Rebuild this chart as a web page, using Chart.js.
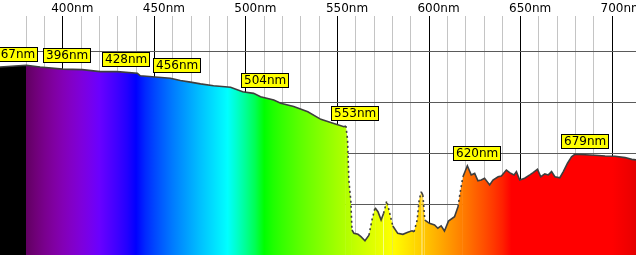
<!DOCTYPE html>
<html>
<head>
<meta charset="utf-8">
<script src="https://cdn.jsdelivr.net/npm/chart.js@4/dist/chart.umd.min.js"></script>
<style>
  html, body { margin: 0; padding: 0; background: #fff; }
  canvas { display: block; }
</style>
</head>
<body>
<canvas id="c" width="636" height="255"></canvas>
<script>
// wavelength (nm) and relative intensity
const wavelengths = [365.7,380,387.6,400,410.6,420.4,429.7,440.7,442.3,450.5,458.8,464.2,469.7,475.2,482.3,491.6,498.2,504.2,508,515.2,519,526.1,533.8,540.9,548,553.5,554.6,555.5,556.2,557.3,557.9,559,561.2,562.8,565,567.2,568.8,570.5,572.1,573.8,575.2,576.9,578.1,580.2,582.9,585.7,588.4,590.7,591.8,593.5,594.6,595.7,596.6,597.7,600.2,603,604.8,606.6,608.4,610.6,613.9,615.8,616.9,618.5,620.9,623,624.9,626.7,628.5,630.3,633.1,634.9,637.7,639.5,642.2,644,646.4,647.7,649.5,652.2,655,656.8,659.2,661,663.2,665.1,666.9,668.7,671.4,673.3,675.6,677.8,679.6,685.1,690.6,696.1,701.5,707,710.7,713];
const intensity = [73.7,74.4,73.7,72.9,72.7,71.9,71.9,71.3,70.3,69.8,69.3,68.4,67.8,67.1,66.4,65.8,64.0,63.4,62.1,60.8,59.5,58.2,56.2,53.2,51.6,50.3,50.6,45.1,29.4,20.9,9.8,8.5,8.1,7.2,5.6,7.8,13.7,18.5,17.0,13.7,16.4,21.2,17.6,11.4,8.5,8.1,8.9,9.5,9.1,13.7,21.6,24.8,23.5,13.7,12.4,11.8,10.5,11.4,9.4,13.3,15.0,18.9,24.2,30.7,35.0,31.4,32.0,29.1,29.4,30.1,27.5,29.4,30.7,31.0,33.3,32.3,31.4,32.7,29.4,30.1,31.4,32.3,33.6,30.7,31.8,31.4,32.7,30.7,30.3,32.7,36.0,38.5,39.5,39.3,39.1,38.8,38.7,38.2,37.5,37.3];
const peaks = [367, 396, 428, 456, 504, 553, 620, 679];

Chart.defaults.font.family = '"DejaVu Sans", sans-serif';
Chart.defaults.font.size = 12;
Chart.defaults.color = '#000';

// visible spectrum colour (Bruton)
function spectrumColor(w) {
  let r = 0, g = 0, b = 0;
  if (w < 380) return 'rgb(0,0,0)';
  if (w < 440) { r = (440 - w) / 60; b = 1; }
  else if (w < 490) { g = (w - 440) / 50; b = 1; }
  else if (w < 510) { g = 1; b = (510 - w) / 20; }
  else if (w < 580) { r = (w - 510) / 70; g = 1; }
  else if (w < 645) { r = 1; g = (645 - w) / 65; }
  else { r = 1; }
  let f = 1;
  if (w < 420) f = 0.3 + 0.7 * (w - 380) / 40;
  else if (w > 700) f = 0.3 + 0.7 * (780 - w) / 80;
  const c = v => v === 0 ? 0 : Math.round(255 * Math.pow(v * f, 0.8));
  return `rgb(${c(r)},${c(g)},${c(b)})`;
}

function spectrumFill(ctx) {
  const chart = ctx.chart;
  const area = chart.chartArea;
  if (!area) return null;
  const xs = chart.scales.x;
  const g = chart.ctx.createLinearGradient(area.left, 0, area.right, 0);
  const pos = w => Math.min(1, Math.max(0, (xs.getPixelForValue(w) - area.left) / (area.right - area.left)));
  g.addColorStop(0, '#000');
  g.addColorStop(pos(379.9), '#000');
  for (let w = 380; w <= 720; w += 5) g.addColorStop(pos(w), spectrumColor(w));
  return g;
}

function valueAround(nm, win) {
  let best = -Infinity;
  for (let i = 0; i < wavelengths.length; i++) {
    if (Math.abs(wavelengths[i] - nm) <= win) best = Math.max(best, intensity[i]);
  }
  if (best === -Infinity) {
    for (let i = 1; i < wavelengths.length; i++) {
      if (wavelengths[i] >= nm) {
        const t = (nm - wavelengths[i - 1]) / (wavelengths[i] - wavelengths[i - 1]);
        return intensity[i - 1] + t * (intensity[i] - intensity[i - 1]);
      }
    }
  }
  return best;
}

const peakLabels = {
  id: 'peakLabels',
  afterDatasetsDraw(chart) {
    const { ctx, scales } = chart;
    ctx.save();
    ctx.font = '12px "DejaVu Sans", sans-serif';
    ctx.textBaseline = 'middle';
    peaks.forEach(p => {
      const text = p + 'nm';
      const tw = ctx.measureText(text).width;
      const nw = ctx.measureText(String(p)).width;
      const px = scales.x.getPixelForValue(p);
      const py = scales.y.getPixelForValue(valueAround(p, 3));
      const left = Math.round(px - nw / 2 - 1) + 0.5;
      const bottom = Math.round(py - 6) + 0.5;
      const w = Math.round(tw + 5), h = 14;
      ctx.fillStyle = '#ffff00';
      ctx.fillRect(left, bottom - h, w, h);
      ctx.strokeStyle = '#000';
      ctx.lineWidth = 1;
      ctx.strokeRect(left, bottom - h, w, h);
      ctx.fillStyle = '#000';
      ctx.fillText(text, left + 2.5, bottom - h / 2 + 0.5);
    });
    ctx.restore();
  }
};

new Chart(document.getElementById('c'), {
  type: 'line',
  data: {
    datasets: [{
      data: wavelengths.map((w, i) => ({ x: w, y: intensity[i] })),
      borderColor: '#3e3e3e',
      borderWidth: 1.6,
      pointRadius: 0,
      tension: 0,
      fill: 'start',
      backgroundColor: spectrumFill,
      segment: {
        borderDash: c => Math.abs(c.p1.y - c.p0.y) > 3 * Math.abs(c.p1.x - c.p0.x) ? [2, 3] : undefined
      }
    }]
  },
  options: {
    responsive: false,
    devicePixelRatio: 1,
    animation: false,
    layout: { padding: 0 },
    plugins: { legend: { display: false }, tooltip: { enabled: false } },
    scales: {
      x: {
        type: 'linear',
        position: 'top',
        min: 365.7,
        max: 713,
        afterFit: s => { s.height = 16; },
        border: { display: false },
        grid: {
          drawTicks: false,
          color: c => {
            const v = Math.round(c.tick.value * 1000) / 1000;
            if (v % 50 === 0) return '#000';
            if (v % 10 === 0) return '#c4c4c4';
            return 'rgba(0,0,0,0)';
          }
        },
        ticks: {
          stepSize: 10,
          autoSkip: false,
          maxRotation: 0,
          padding: 0,
          labelOffset: 9.5,
          color: '#000',
          callback: v => {
            const r = Math.round(v * 1000) / 1000;
            return r % 50 === 0 ? r + 'nm' : '';
          }
        }
      },
      y: {
        min: 0,
        max: 93.73,
        border: { display: false },
        grid: {
          drawTicks: false,
          color: c => (Math.round(c.tick.value) % 20 === 0 && Math.abs(c.tick.value - Math.round(c.tick.value)) < 0.01) ? '#5a5a5a' : 'rgba(0,0,0,0)'
        },
        ticks: { display: false, stepSize: 20 }
      }
    }
  },
  plugins: [peakLabels]
});
</script>
</body>
</html>
